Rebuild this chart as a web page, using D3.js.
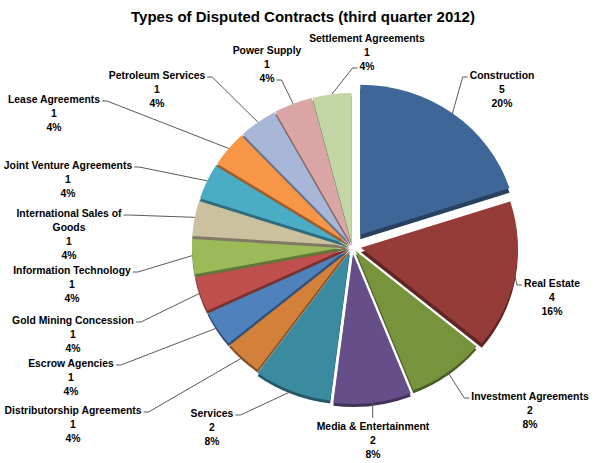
<!DOCTYPE html>
<html>
<head>
<meta charset="utf-8">
<script src="https://cdn.jsdelivr.net/npm/d3@7"></script>
<style>
  body { margin: 0; background: #fff; }
  text { font-family: "Liberation Sans", Arial, sans-serif; font-weight: bold; fill: #000; font-size: 10.4px; }
</style>
</head>
<body>
<svg id="chart" width="600" height="463"></svg>
<script>
const categories = ['Construction', 'Real Estate', 'Investment Agreements', 'Media & Entertainment', 'Services',
  'Distributorship Agreements', 'Escrow Agencies', 'Gold Mining Concession', 'Information Technology',
  'International Sales of Goods', 'Joint Venture Agreements', 'Lease Agreements', 'Petroleum Services',
  'Power Supply', 'Settlement Agreements']
const counts = [5, 4, 2, 2, 2, 1, 1, 1, 1, 1, 1, 1, 1, 1, 1]

const colors = ['#3e6797', '#953c39', '#77933c', '#664f89', '#3b8ba0', '#d3803b', '#4f81bd', '#c0504d',
  '#9bbb59', '#cbc19f', '#4bacc6', '#f79646', '#a8b7d8', '#d9a6a5', '#c4d6a5']
const explode = [14, 9, 6, 8, 6, 3, 3, 3, 3, 3, 3, 3, 3, 3, 3]
// label block: centre x, first line y, line the leader meets, side it meets
const labelAt = [
  [502, 75, 0, 'L'], [552, 283, 0, 'L'], [530, 396, 0, 'L'], [373, 426, 0, 'T'], [212, 413, 0, 'R'],
  [73, 410, 0, 'R'], [71, 363, 0, 'R'], [73, 320, 0, 'R'], [72, 270, 0, 'R'], [69, 213, 0, 'R'],
  [68, 165, 0, 'R'], [54, 99, 0, 'R'], [157, 75, 0, 'R'], [267, 50, 2, 'R'], [367, 38, 2, 'L']
]

const svg = d3.select('#chart')
const cx = 352, cy = 246, rx = 157, ry = 150, depth = 3
const k = ry / rx

svg.append('text')
  .attr('x', 303).attr('y', 17).attr('dy', '0.35em')
  .attr('text-anchor', 'middle')
  .style('font-size', '15px')
  .text('Types of Disputed Contracts (third quarter 2012)')

const pie = d3.pie().sort(null).value(d => d)
const arcs = pie(counts)
const arc = d3.arc().innerRadius(0).outerRadius(rx)
const mid = d => (d.startAngle + d.endAngle) / 2
const shift = (d, dz) => {
  const m = mid(d), e = explode[d.index]
  return 'translate(' + (cx + e * Math.sin(m)) + ',' + (cy - e * Math.cos(m) + dz) + ') scale(1,' + k + ')'
}

// lower slices first so the dark side of the upper one lies over them
const order = arcs.slice().sort((a, b) => Math.cos(mid(a)) - Math.cos(mid(b)))
const slices = svg.append('g')
order.forEach(d => {
  slices.append('path')
    .attr('d', arc(d))
    .attr('transform', shift(d, d.value > 2 ? depth + 1.5 : depth))
    .attr('fill', d3.color(colors[d.index]).darker(1.3))
  slices.append('path')
    .attr('d', arc(d))
    .attr('transform', shift(d, 0))
    .attr('fill', colors[d.index])
})

const total = d3.sum(counts)
function wrap(name) {
  if (name.length <= 26) return [name]
  const out = []
  let cur = ''
  name.split(' ').forEach(w => {
    const next = cur ? cur + ' ' + w : w
    if (next.length > 22 && cur) { out.push(cur); cur = w } else cur = next
  })
  out.push(cur)
  return out
}

const labels = svg.append('g')
arcs.forEach(d => {
  const i = d.index
  const [lx, ly, li, side] = labelAt[i]
  const lines = wrap(categories[i]).concat([String(counts[i]), Math.round(counts[i] / total * 100) + '%'])
  const texts = lines.map((s, j) => labels.append('text')
    .attr('x', lx).attr('y', ly + j * 14).attr('dy', '0.35em')
    .attr('text-anchor', 'middle')
    .text(s))
  const w = texts[li].node().getComputedTextLength()
  const m = mid(d), e = explode[i]
  const px = cx + (e + rx) * Math.sin(m), py = cy - (e + ry) * Math.cos(m)
  const yy = ly + li * 14 + 2
  let pts
  if (side === 'T') {
    pts = [[px, py], [px, ly - 8]]
  } else {
    const s = side === 'R' ? 1 : -1
    const ex = lx + s * w / 2
    pts = [[px, py], [ex + s * 7, yy], [ex + s * 2, yy]]
  }
  labels.append('path')
    .attr('d', d3.line()(pts))
    .attr('fill', 'none')
    .attr('stroke', '#595959')
    .attr('stroke-width', 1)
})
</script>
</body>
</html>
